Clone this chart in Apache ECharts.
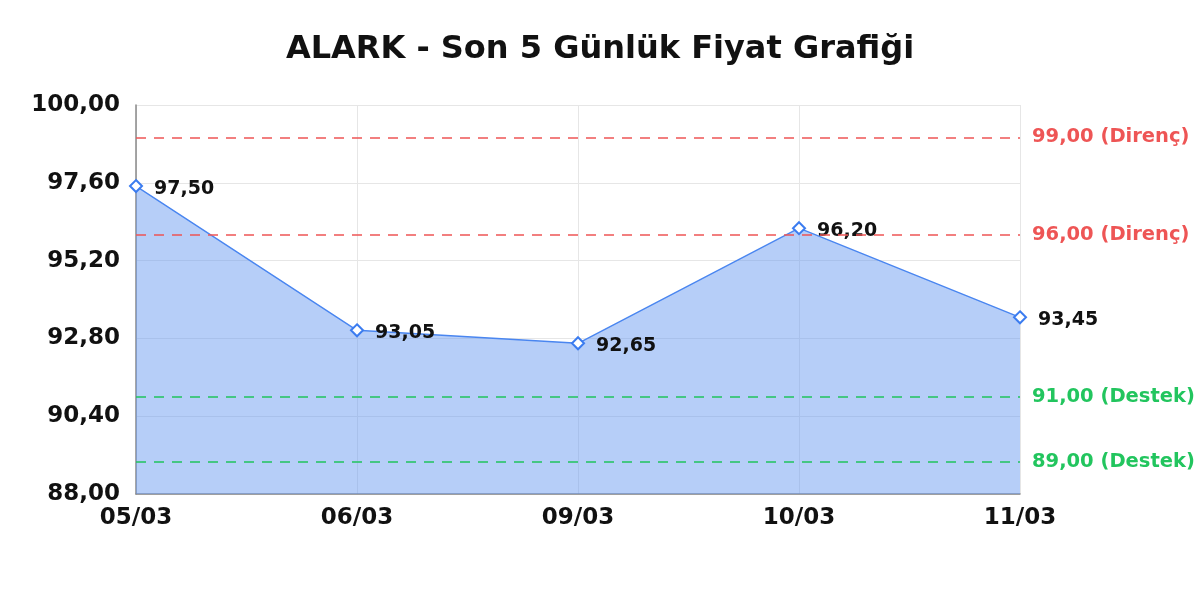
<!DOCTYPE html>
<html>
<head>
<meta charset="utf-8">
<script src="https://cdn.jsdelivr.net/npm/echarts@6/dist/echarts.min.js"></script>
<style>
html, body { margin: 0; padding: 0; background: #fff; }
#chart { width: 1200px; height: 600px; }
</style>
</head>
<body>
<div id="chart"></div>
<script>
// fiyat verisi
var days = ["05/03", "06/03", "09/03", "10/03", "11/03"];
var prices = [97.50, 93.05, 92.65, 96.20, 93.45];
var resistance = [99, 96];
var support = [91, 89];
var yMin = 88, yMax = 100, yStep = 2.4;

function trNum(v) {
    return v.toFixed(2).replace(".", ",");
}

var levelLines = [];
for (var i = 0; i < resistance.length; i++) {
    levelLines.push({ yAxis: resistance[i], kind: "Direnç", color: "#ee5555" });
}
for (var j = 0; j < support.length; j++) {
    levelLines.push({ yAxis: support[j], kind: "Destek", color: "#22c55e" });
}

var chart = echarts.init(document.getElementById("chart"));
chart.setOption({
    animation: false,
    title: {
        text: "ALARK - Son 5 Günlük Fiyat Grafiği",
        left: "center",
        top: 29,
        textStyle: { fontFamily: "DejaVu Sans", fontSize: 32, fontWeight: "bold", color: "#111" }
    },
    grid: { left: 136, right: 180, top: 105, bottom: 106 },
    xAxis: {
        type: "category",
        data: days,
        boundaryGap: false,
        axisLine: { lineStyle: { color: "#888", width: 1.5 } },
        axisTick: { show: false },
        axisLabel: { fontFamily: "DejaVu Sans", fontSize: 23, fontWeight: "bold", color: "#111", margin: 13 },
        splitLine: { show: true, lineStyle: { color: "#e6e6e6" } }
    },
    yAxis: {
        type: "value",
        min: yMin,
        max: yMax,
        interval: yStep,
        axisLine: { show: true, lineStyle: { color: "#888", width: 1.5 } },
        axisTick: { show: false },
        axisLabel: {
            fontFamily: "DejaVu Sans", fontSize: 23, fontWeight: "bold", color: "#111", margin: 16,
            formatter: function(v) { return trNum(v); }
        },
        splitLine: { lineStyle: { color: "#e6e6e6" } }
    },
    series: [{
        type: "line",
        data: prices,
        symbol: "emptyDiamond",
        symbolSize: 12,
        lineStyle: { color: "#4a86f0", width: 1.4 },
        itemStyle: { color: "#3b7cf0", borderWidth: 2.2 },
        areaStyle: { color: "rgba(100,150,240,0.47)", opacity: 1 },
        label: {
            show: true,
            position: "right",
            distance: 10,
            offset: [1, 3],
            fontFamily: "DejaVu Sans",
            fontSize: 19,
            fontWeight: "bold",
            color: "#111",
            formatter: function(p) { return trNum(p.value); }
        },
        markLine: {
            silent: true,
            symbol: "none",
            data: levelLines.map(function(l) {
                return {
                    yAxis: l.yAxis,
                    lineStyle: { color: l.color, type: [10, 8], width: 1.5 },
                    label: {
                        show: true,
                        position: "end",
                        distance: 12,
                        fontFamily: "DejaVu Sans",
                        fontSize: 19.5,
                        fontWeight: "bold",
                        color: l.color,
                        formatter: trNum(l.yAxis) + " (" + l.kind + ")"
                    }
                };
            })
        }
    }]
});
</script>
</body>
</html>
